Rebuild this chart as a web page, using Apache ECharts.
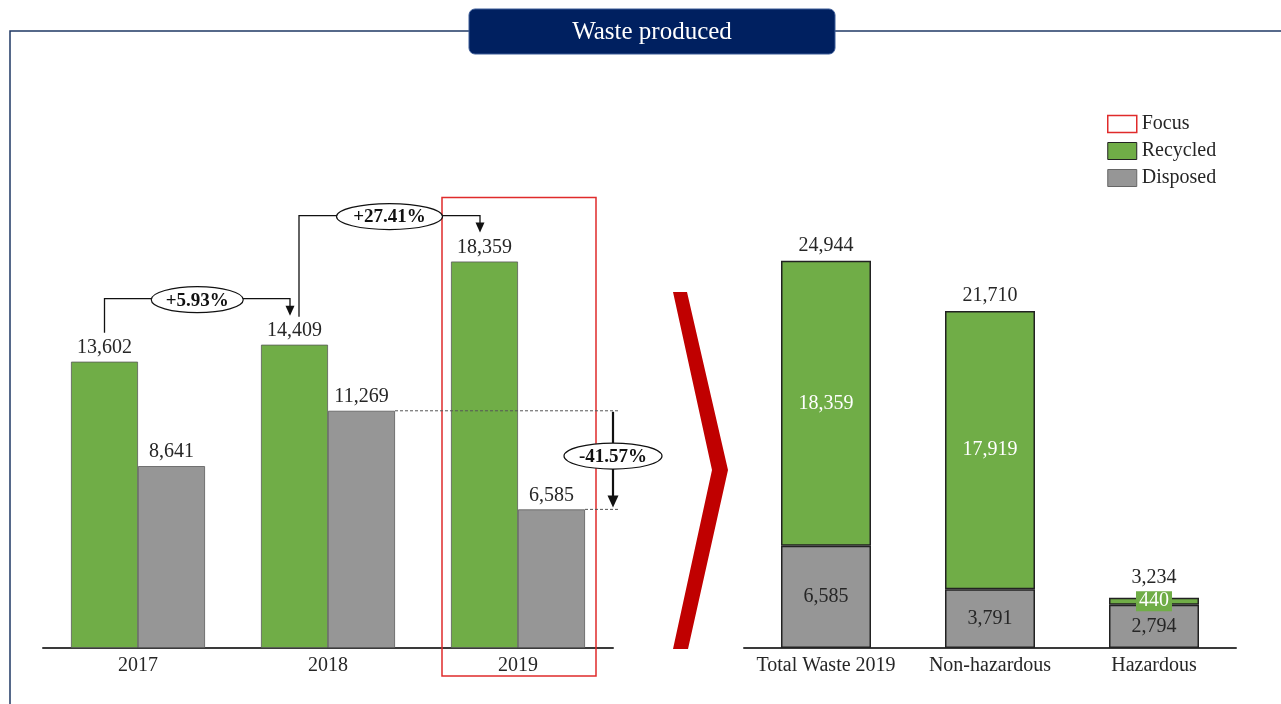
<!DOCTYPE html>
<html>
<head>
<meta charset="utf-8">
<script src="https://cdn.jsdelivr.net/npm/echarts@6/dist/echarts.min.js"></script>
<style>
  html, body { margin: 0; padding: 0; background: #fff; }
  #chart { width: 1281px; height: 704px; }
</style>
</head>
<body>
<div id="chart"></div>
<script>
// data
const years = ['2017', '2018', '2019'];
const recycledByYear = [13602, 14409, 18359];
const disposedByYear = [8641, 11269, 6585];
const breakdownCats = ['Total Waste 2019', 'Non-hazardous', 'Hazardous'];
const breakdownRecycled = [18359, 17919, 440];
const breakdownDisposed = [6585, 3791, 2794];
const changeLabels = ['+5.93%', '+27.41%', '-41.57%'];

const GREEN = '#70AD47';
const GRAY = '#969696';
const RED = '#E02B2B';
const NAVY = '#002060';
const TXT = '#262626';
const FONT = 'Liberation Serif';
const BW = 67; // left bar width

const fmt = v => v.toLocaleString('en-US');
const totals = breakdownRecycled.map((v, i) => v + breakdownDisposed[i]);

const chart = echarts.init(document.getElementById('chart'));

const axisLabel = { fontSize: 20, color: TXT, fontFamily: FONT, margin: 8, interval: 0 };
const axisLine = { lineStyle: { color: '#3a3a3a', width: 2 } };

chart.setOption({
  animation: false,
  textStyle: { fontFamily: FONT, color: TXT },
  grid: [
    { left: 43, top: 227, width: 570, height: 421 },
    { left: 744, top: 260, width: 492, height: 388 }
  ],
  xAxis: [
    { gridIndex: 0, type: 'category', data: years, axisLine: axisLine, axisTick: { show: false }, axisLabel: axisLabel },
    { gridIndex: 1, type: 'category', data: breakdownCats, axisLine: axisLine, axisTick: { show: false }, axisLabel: axisLabel }
  ],
  yAxis: [
    { gridIndex: 0, type: 'value', min: 0, max: 20000, show: false, splitLine: { show: false } },
    { gridIndex: 1, type: 'value', min: 0, max: 25000, show: false, splitLine: { show: false } }
  ],
  legend: {
    orient: 'vertical',
    left: 1107,
    top: 114,
    padding: 0,
    itemWidth: 29,
    itemHeight: 17,
    itemGap: 7,
    selectedMode: false,
    textStyle: { fontSize: 20, fontFamily: FONT, color: TXT },
    data: [
      { name: 'Focus', icon: 'rect', itemStyle: { color: '#fff', borderColor: RED, borderWidth: 1.5 } },
      { name: 'Recycled', icon: 'rect', itemStyle: { color: GREEN, borderColor: '#222', borderWidth: 1 } },
      { name: 'Disposed', icon: 'rect', itemStyle: { color: GRAY, borderColor: '#666', borderWidth: 1 } }
    ]
  },
  series: [
    { name: 'Focus', type: 'line', xAxisIndex: 0, yAxisIndex: 0, data: [] },
    {
      name: 'Recycled', type: 'bar', xAxisIndex: 0, yAxisIndex: 0,
      data: recycledByYear, barWidth: BW, barGap: '0%',
      itemStyle: { color: GREEN, borderColor: '#5a5a5a', borderWidth: 0.8 },
      label: { show: true, position: 'top', distance: 4, fontSize: 20, color: TXT, formatter: p => fmt(p.value) }
    },
    {
      name: 'Disposed', type: 'bar', xAxisIndex: 0, yAxisIndex: 0,
      data: disposedByYear, barWidth: BW, barGap: '0%',
      itemStyle: { color: GRAY, borderColor: '#5a5a5a', borderWidth: 0.8 },
      label: { show: true, position: 'top', distance: 4, fontSize: 20, color: TXT, formatter: p => fmt(p.value) }
    },
    {
      name: 'Disposed', type: 'bar', xAxisIndex: 1, yAxisIndex: 1, stack: 'split',
      data: breakdownDisposed, barWidth: 90,
      itemStyle: { color: GRAY, borderColor: '#222', borderWidth: 1.5 },
      label: { show: true, position: 'inside', fontSize: 20, color: TXT, formatter: p => fmt(p.value) }
    },
    {
      name: 'Recycled', type: 'bar', xAxisIndex: 1, yAxisIndex: 1, stack: 'split',
      data: breakdownRecycled.map((v, i) => i === 2
        ? { value: v, label: { backgroundColor: GREEN, padding: [0, 3] } }
        : v),
      barWidth: 90,
      itemStyle: { color: GREEN, borderColor: '#222', borderWidth: 1.5 },
      label: { show: true, position: 'inside', fontSize: 20, color: '#fff', formatter: p => fmt(p.value) }
    },
    {
      name: 'Total', type: 'scatter', xAxisIndex: 1, yAxisIndex: 1,
      data: totals.map((v, i) => i === 2 ? { value: v, label: { distance: 10 } } : v),
      symbolSize: 0, itemStyle: { color: TXT, opacity: 1 },
      label: { show: true, position: 'top', distance: 5, fontSize: 20, color: TXT, opacity: 1, formatter: p => fmt(p.value) }
    }
  ]
});

// annotations placed from the axes' pixel positions
const px = (i, v) => chart.convertToPixel({ xAxisIndex: 0, yAxisIndex: 0 }, [i, v]);
const topG = recycledByYear.map((v, i) => px(i, v));
const topD = disposedByYear.map((v, i) => px(i, v));
const greenX = i => topG[i][0] - BW / 2;

const g = [];
const lineStyle = { stroke: '#111', lineWidth: 1.3, fill: null };
const ellipseRx = [46, 53, 49];

function bubble(cx, cy, rx, text) {
  g.push({ type: 'ellipse', shape: { cx: cx, cy: cy, rx: rx, ry: 13 }, style: { fill: '#fff', stroke: '#111', lineWidth: 1.2 }, z: 20 });
  g.push({ type: 'text', x: cx, y: cy + 1, style: { text: text, align: 'center', verticalAlign: 'middle', font: 'bold 19px "Liberation Serif"', fill: '#111' }, z: 21 });
}

for (let i = 0; i < 2; i++) {
  const sx = greenX(i) + (i > 0 ? 4.5 : 0);
  const sy = topG[i][1] - (i > 0 ? 28 : 29);
  const hy = topG[i + 1][1] - 46;
  const ex = greenX(i + 1) - 4.5;
  const tip = topG[i + 1][1] - 29;
  g.push({ type: 'polyline', shape: { points: [[sx, sy], [sx, hy], [ex, hy], [ex, tip - 9]] }, style: lineStyle, z: 15 });
  g.push({ type: 'polygon', shape: { points: [[ex - 4.5, tip - 10], [ex + 4.5, tip - 10], [ex, tip]] }, style: { fill: '#111' }, z: 15 });
  bubble((sx + ex) / 2, hy + 1, ellipseRx[i], changeLabels[i]);
}

// drop between 2018 and 2019 disposed
const y1 = topD[1][1];
const y2 = topD[2][1];
const ax = 613;
g.push({ type: 'line', shape: { x1: topD[1][0] + BW, y1: y1, x2: ax + 5, y2: y1 }, style: { stroke: '#555', lineWidth: 1, lineDash: [3, 2] }, z: 14 });
g.push({ type: 'line', shape: { x1: topD[2][0] + BW, y1: y2, x2: ax + 5, y2: y2 }, style: { stroke: '#555', lineWidth: 1, lineDash: [3, 2] }, z: 14 });
g.push({ type: 'line', shape: { x1: ax, y1: y1 + 1, x2: ax, y2: y2 - 12 }, style: { stroke: '#111', lineWidth: 2.2 }, z: 15 });
g.push({ type: 'polygon', shape: { points: [[ax - 5.5, y2 - 14], [ax + 5.5, y2 - 14], [ax, y2 - 2]] }, style: { fill: '#111' }, z: 15 });
bubble(ax, (y1 + y2) / 2 - 4, ellipseRx[2], changeLabels[2]);

// focus box around 2019
const c19 = topG[2][0];
g.push({ type: 'rect', shape: { x: c19 - 76, y: topG[2][1] - 64, width: 154, height: 676 - (topG[2][1] - 64) }, style: { fill: null, stroke: RED, lineWidth: 1.5 }, z: 12 });

// chevron
g.push({ type: 'polygon', shape: { points: [[673, 292], [687, 292], [728, 470], [688, 649], [673, 649], [712, 470]] }, style: { fill: '#C00000' }, z: 10 });

// frame and title
g.push({ type: 'polyline', shape: { points: [[10, 704], [10, 31], [469, 31]] }, style: { stroke: '#1F3864', lineWidth: 1.5, fill: null }, z: 5 });
g.push({ type: 'line', shape: { x1: 835, y1: 31, x2: 1281, y2: 31 }, style: { stroke: '#1F3864', lineWidth: 1.5 }, z: 5 });
g.push({ type: 'rect', shape: { x: 469, y: 9, width: 366, height: 45, r: 6 }, style: { fill: NAVY, stroke: '#3a5a96', lineWidth: 1 }, z: 6 });
g.push({ type: 'text', x: 652, y: 32, style: { text: 'Waste produced', align: 'center', verticalAlign: 'middle', font: '25px "Liberation Serif"', fill: '#fff' }, z: 7 });

chart.setOption({ graphic: g });
</script>
</body>
</html>
